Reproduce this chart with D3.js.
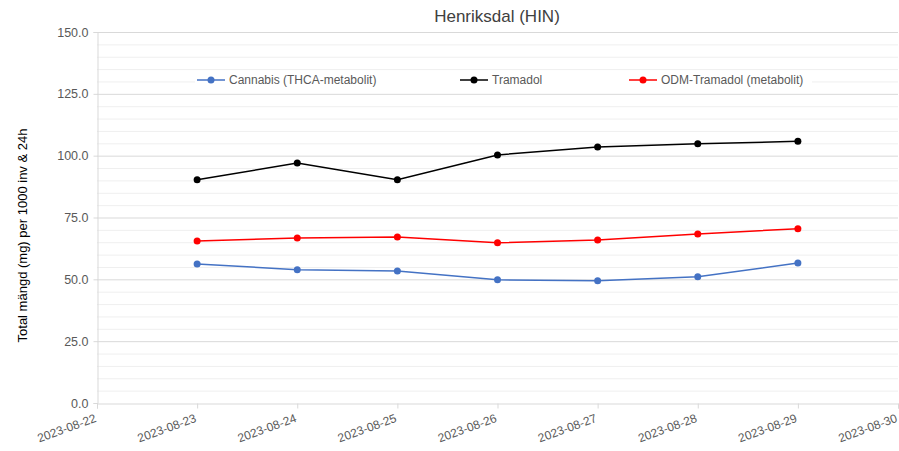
<!DOCTYPE html>
<html>
<head>
<meta charset="utf-8">
<script src="https://cdn.jsdelivr.net/npm/d3@7"></script>
<style>
  body { margin: 0; background: #fff; }
  .chart text { font-family: "Liberation Sans", Arial, sans-serif; }
</style>
</head>
<body>
<div class="chart"></div>
<script>
// values
var dates = ["2023-08-22", "2023-08-23", "2023-08-24", "2023-08-25", "2023-08-26",
             "2023-08-27", "2023-08-28", "2023-08-29", "2023-08-30"];
var seriesDates = ["2023-08-23", "2023-08-24", "2023-08-25", "2023-08-26",
                   "2023-08-27", "2023-08-28", "2023-08-29"];
var cannabis = [56.2, 53.9, 53.4, 49.8, 49.4, 51.0, 56.6];
var tramadol = [90.3, 97.0, 90.3, 100.3, 103.5, 104.8, 105.8];
var odmTramadol = [65.5, 66.7, 67.1, 64.8, 65.9, 68.3, 70.5];
var yTicks = [0, 25, 50, 75, 100, 125, 150];
var seriesNames = ["Cannabis (THCA-metabolit)", "Tramadol", "ODM-Tramadol (metabolit)"];
var seriesColors = ["#4472c4", "#000000", "#ff0000"];

var svgWidth = 899;
var svgHeight = 451;
var margin = { top: 32, right: 1, bottom: 48, left: 97 };
var width = svgWidth - margin.left - margin.right;
var height = svgHeight - margin.top - margin.bottom;

var svg = d3.select(".chart").append("svg")
  .attr("width", svgWidth)
  .attr("height", svgHeight);

var g = svg.append("g")
  .attr("transform", "translate(" + margin.left + "," + margin.top + ")");

var parse = d3.timeParse("%Y-%m-%d");
var fmt = d3.timeFormat("%Y-%m-%d");

var x = d3.scaleTime()
  .domain([parse(dates[0]), parse(dates[dates.length - 1])])
  .range([0, width]);
var y = d3.scaleLinear().domain([0, 150]).range([height, 0]);

// minor gridlines every 5
g.append("g").selectAll("line")
  .data(d3.range(5, 150, 5).filter(function(v) { return v % 25 != 0; }))
  .enter().append("line")
  .attr("x1", 0).attr("x2", width)
  .attr("y1", function(d) { return y(d) + 0.5; })
  .attr("y2", function(d) { return y(d) + 0.5; })
  .attr("stroke", "#efefef");

// major gridlines
g.append("g").selectAll("line")
  .data(yTicks.slice(1))
  .enter().append("line")
  .attr("x1", 0).attr("x2", width)
  .attr("y1", function(d) { return y(d) + 0.5; })
  .attr("y2", function(d) { return y(d) + 0.5; })
  .attr("stroke", "#d9d9d9");

// y axis
var leftAxis = d3.axisLeft(y).tickValues(yTicks).tickFormat(d3.format(".1f")).tickSize(4);
var ya = g.append("g").attr("transform", "translate(0.5,0)").call(leftAxis);
ya.select(".domain").attr("stroke", "#d9d9d9");
ya.selectAll(".tick line").attr("stroke", "#d9d9d9");
ya.selectAll("text").attr("font-size", 12.5).attr("fill", "#595959").attr("x", -9);

// x axis
var bottomAxis = d3.axisBottom(x)
  .tickValues(dates.map(parse))
  .tickFormat(fmt)
  .tickSize(5);
var xa = g.append("g").attr("transform", "translate(0," + (height + 0.5) + ")").call(bottomAxis);
xa.select(".domain").attr("stroke", "#d9d9d9");
xa.selectAll(".tick line").attr("stroke", "#d9d9d9");
xa.selectAll("text")
  .attr("font-size", 12)
  .attr("fill", "#595959")
  .attr("text-anchor", "end")
  .attr("dy", "0.35em")
  .attr("transform", "translate(-2,14) rotate(-20)")
  .attr("x", 0).attr("y", 0);

// lines
var allSeries = [cannabis, tramadol, odmTramadol];
var line = d3.line()
  .x(function(d, i) { return x(parse(seriesDates[i])); })
  .y(function(d) { return y(d); });

allSeries.forEach(function(vals, k) {
  g.append("path")
    .datum(vals)
    .attr("fill", "none")
    .attr("stroke", seriesColors[k])
    .attr("stroke-width", 1.5)
    .attr("d", line);
  g.selectAll(".pt" + k)
    .data(vals)
    .enter().append("circle")
    .attr("class", "pt" + k)
    .attr("cx", function(d, i) { return x(parse(seriesDates[i])); })
    .attr("cy", function(d) { return y(d); })
    .attr("r", 3.5)
    .attr("fill", seriesColors[k]);
});

// legend
svg.append("rect")
  .attr("x", 195).attr("y", 71).attr("width", 617).attr("height", 19)
  .attr("fill", "#fff");
var legendX = [197, 460, 629];
seriesNames.forEach(function(name, k) {
  var lg = svg.append("g").attr("transform", "translate(" + legendX[k] + ",80)");
  lg.append("line").attr("x1", 0).attr("x2", 28).attr("y1", 0).attr("y2", 0)
    .attr("stroke", seriesColors[k]).attr("stroke-width", 1.5);
  lg.append("circle").attr("cx", 14).attr("cy", 0).attr("r", 3.5).attr("fill", seriesColors[k]);
  lg.append("text").attr("x", 32).attr("y", 0).attr("dy", "0.35em")
    .attr("font-size", 12).attr("fill", "#595959").text(name);
});

// title
svg.append("text")
  .attr("x", 497).attr("y", 22)
  .attr("text-anchor", "middle")
  .attr("font-size", 17)
  .attr("fill", "#404040")
  .text("Henriksdal (HIN)");

// y label
svg.append("text")
  .attr("transform", "translate(27," + (margin.top + height / 2 + 18) + ") rotate(-90)")
  .attr("text-anchor", "middle")
  .attr("font-size", 13)
  .attr("fill", "#000")
  .text("Total mängd (mg) per 1000 inv & 24h");
</script>
</body>
</html>
